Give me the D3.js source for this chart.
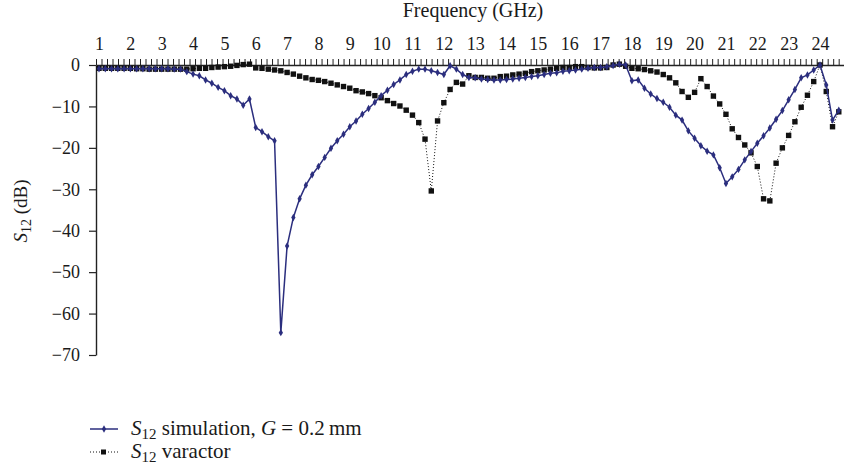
<!DOCTYPE html>
<html>
<head>
<meta charset="utf-8">
<script src="https://cdn.jsdelivr.net/npm/d3@7"></script>
<style>
  body { margin: 0; background: #fff; }
  svg { display: block; }
</style>
</head>
<body>
<div class="graph-container"></div>
<script>
// frequency points (GHz), both series are sampled the same way
var freqGHz = [
  1.0, 1.2, 1.4, 1.6, 1.8, 2.0, 2.2, 2.4, 2.6, 2.8,
  3.0, 3.2, 3.4, 3.6, 3.8, 4.0, 4.2, 4.4, 4.6, 4.8,
  5.0, 5.2, 5.4, 5.6, 5.8, 6.0, 6.2, 6.4, 6.6, 6.8,
  7.0, 7.2, 7.4, 7.6, 7.8, 8.0, 8.2, 8.4, 8.6, 8.8,
  9.0, 9.2, 9.4, 9.6, 9.8, 10.0, 10.2, 10.4, 10.6, 10.8,
  11.0, 11.2, 11.4, 11.6, 11.8, 12.0, 12.2, 12.4, 12.6, 12.8,
  13.0, 13.2, 13.4, 13.6, 13.8, 14.0, 14.2, 14.4, 14.6, 14.8,
  15.0, 15.2, 15.4, 15.6, 15.8, 16.0, 16.2, 16.4, 16.6, 16.8,
  17.0, 17.2, 17.4, 17.6, 17.8, 18.0, 18.2, 18.4, 18.6, 18.8,
  19.0, 19.2, 19.4, 19.6, 19.8, 20.0, 20.2, 20.4, 20.6, 20.8,
  21.0, 21.2, 21.4, 21.6, 21.8, 22.0, 22.2, 22.4, 22.6, 22.8,
  23.0, 23.2, 23.4, 23.6, 23.8, 24.0, 24.2, 24.4, 24.6
];

// S12 simulation, G = 0.2 mm (dB)
var s12Simulation = [
  -0.9, -0.9, -0.9, -0.9, -0.9, -0.9, -0.9, -0.9, -0.9, -0.9,
  -0.9, -0.9, -1.0, -1.0, -1.6, -2.2, -2.6, -3.6, -4.4, -5.4,
  -6.2, -7.4, -8.2, -9.7, -8.2, -15.1, -16.1, -17.3, -18.3, -64.6,
  -43.7, -36.8, -32.3, -29.0, -26.5, -24.5, -22.3, -20.1, -18.3, -16.7,
  -14.9, -13.5, -11.9, -10.5, -9.0, -7.4, -6.1, -4.7, -3.6, -2.3,
  -1.5, -1.0, -1.0, -1.4, -1.8, -2.3, -0.2, -1.0, -2.3, -3.0,
  -3.1, -3.4, -3.5, -3.6, -3.6, -3.5, -3.4, -3.2, -3.0, -2.8,
  -2.6, -2.3, -2.0, -1.9, -1.5, -1.4, -1.2, -1.0, -0.8, -0.6,
  -0.6, -0.4, -0.1, 0.2, 0.0, -3.8, -3.6, -5.6, -7.0, -8.1,
  -9.0, -10.2, -12.1, -13.3, -15.9, -17.7, -19.5, -20.8, -21.7, -24.8,
  -28.6, -27.0, -25.2, -22.9, -20.9, -18.9, -17.1, -15.2, -13.1, -11.0,
  -8.4, -5.9, -3.1, -2.4, -1.2, 0.0, -4.8, -13.3, -10.9
];

// S12 varactor (dB)
var s12Varactor = [
  -0.8, -0.8, -0.8, -0.8, -0.8, -0.8, -0.9, -0.9, -1.0, -1.0,
  -1.0, -1.0, -1.0, -1.0, -1.0, -0.9, -0.8, -0.8, -0.6, -0.5,
  -0.4, -0.3, -0.1, 0.1, 0.2, -0.7, -0.8, -1.0, -1.2, -1.4,
  -1.8, -2.2, -2.7, -3.1, -3.5, -3.7, -4.0, -4.4, -4.8, -5.2,
  -5.6, -6.2, -6.5, -6.9, -7.4, -7.9, -8.6, -9.3, -9.9, -10.9,
  -12.1, -13.9, -17.9, -30.4, -13.5, -9.1, -5.9, -4.2, -4.6, -2.6,
  -3.0, -3.0, -3.2, -3.2, -2.8, -2.7, -2.4, -2.2, -2.0, -1.6,
  -1.4, -1.2, -1.0, -0.8, -0.6, -0.6, -0.4, -0.4, -0.6, -0.7,
  -0.7, -0.6, 0.0, 0.2, -0.3, -0.8, -0.9, -1.1, -1.4, -1.7,
  -2.3, -3.1, -4.3, -6.4, -7.8, -6.6, -3.3, -5.2, -7.5, -9.4,
  -11.9, -15.4, -17.5, -19.3, -21.2, -24.5, -32.3, -32.8, -23.7, -20.0,
  -17.0, -13.7, -10.2, -7.3, -4.0, 0.0, -6.4, -14.9, -11.3
];

var freqTickLabels = [1, 2, 3, 4, 5, 6, 7, 8, 9, 10, 11, 12, 13, 14, 15, 16, 17, 18, 19, 20, 21, 22, 23, 24];
var dbTicks = [0, -10, -20, -30, -40, -50, -60, -70];

var serif = "'Liberation Serif', 'DejaVu Serif', 'Times New Roman', Tinos, 'Noto Serif', serif";

var width = 844, height = 469;
var margin = { top: 65, left: 96, right: 0, bottom: 114 };

var svg = d3.select(".graph-container").append("svg")
    .attr("width", width)
    .attr("height", height)
    .attr("font-family", serif)
    .style("font-family", serif);

var x = d3.scaleLinear()
    .domain([0.904, 24.766])
    .range([margin.left, width - margin.right]);

var y = d3.scaleLinear()
    .domain([-70, 0])
    .range([height - margin.bottom, margin.top]);

var blue = "#2b2e7e";

// top axis: small ticks + numbers
var minorTicks = d3.range(x.domain()[0], x.domain()[1], 0.1755);

svg.append("g")
    .attr("transform", "translate(0," + margin.top + ")")
    .call(d3.axisTop(x).tickValues(minorTicks).tickSize(6).tickSizeOuter(0).tickFormat(""))
    .call(g => g.selectAll("line").attr("stroke", "#222"))
    .call(g => g.select(".domain").attr("stroke", "#222").attr("stroke-width", 1.4));

var xLabels = svg.append("g")
    .attr("transform", "translate(0," + margin.top + ")")
    .call(d3.axisTop(x).tickValues(freqTickLabels).tickSize(0).tickPadding(15).tickFormat(d => d));
xLabels.attr("font-family", null);
xLabels.select(".domain").remove();
xLabels.selectAll("text").style("font-size", "18px").style("font-family", serif).attr("fill", "#1a1a1a");

svg.append("text")
    .attr("x", 473)
    .attr("y", 17)
    .attr("text-anchor", "middle")
    .style("font-size", "20px")
    .attr("fill", "#1a1a1a")
    .text("Frequency (GHz)");

// left axis
var yAxisGroup = svg.append("g")
    .attr("transform", "translate(" + margin.left + ",0)")
    .call(d3.axisLeft(y).tickValues(dbTicks).tickSize(7).tickSizeOuter(0).tickPadding(9));
yAxisGroup.attr("font-family", null);
yAxisGroup.selectAll("line").attr("stroke", "#222").attr("stroke-width", 1.2);
yAxisGroup.select(".domain").attr("stroke", "#222").attr("stroke-width", 1.4);
yAxisGroup.selectAll("text").style("font-size", "18px").style("font-family", serif).attr("fill", "#1a1a1a");

var yTitle = svg.append("text")
    .attr("transform", "translate(27,211) rotate(-90)")
    .attr("text-anchor", "middle")
    .attr("fill", "#1a1a1a")
    .style("font-size", "19px");
yTitle.append("tspan").style("font-style", "italic").text("S");
yTitle.append("tspan").attr("dy", 4).style("font-size", "14px").text("12");
yTitle.append("tspan").attr("dy", -4).text(" (dB)");

// varactor: dotted line with square markers
var varData = freqGHz.map((f, i) => ({ f: f, v: s12Varactor[i] }));
var simData = freqGHz.map((f, i) => ({ f: f, v: s12Simulation[i] }));

var line = d3.line().x(d => x(d.f)).y(d => y(d.v));

svg.append("path")
    .datum(varData)
    .attr("d", line)
    .attr("fill", "none")
    .attr("stroke", "#111")
    .attr("stroke-width", 1)
    .attr("stroke-dasharray", "1,2");

svg.append("g")
    .selectAll("rect")
    .data(varData)
    .enter()
    .append("rect")
    .attr("x", d => x(d.f) - 2.7)
    .attr("y", d => y(d.v) - 2.7)
    .attr("width", 5.4)
    .attr("height", 5.4)
    .attr("fill", "#111");

// simulation: solid blue with small diamonds
svg.append("path")
    .datum(simData)
    .attr("d", line)
    .attr("fill", "none")
    .attr("stroke", blue)
    .attr("stroke-width", 1.5);

var diamond = d3.symbol().type(d3.symbolDiamond).size(16);
svg.append("g")
    .selectAll("path")
    .data(simData)
    .enter()
    .append("path")
    .attr("d", diamond)
    .attr("transform", d => "translate(" + x(d.f) + "," + y(d.v) + ")")
    .attr("fill", blue);

// legend
var lg = svg.append("g");
lg.append("line").attr("x1", 90).attr("x2", 118).attr("y1", 429).attr("y2", 429)
    .attr("stroke", blue).attr("stroke-width", 1.5);
lg.append("path").attr("d", diamond).attr("transform", "translate(104,429)").attr("fill", blue);

var t1 = lg.append("text").attr("x", 131).attr("y", 435).attr("fill", "#1a1a1a").style("font-size", "21px");
t1.append("tspan").style("font-style", "italic").text("S");
t1.append("tspan").attr("dy", 4).style("font-size", "15px").text("12");
t1.append("tspan").attr("dy", -4).text(" simulation, ");
t1.append("tspan").style("font-style", "italic").text("G");
t1.append("tspan").text(" = 0.2\u2009mm");

lg.append("line").attr("x1", 90).attr("x2", 118).attr("y1", 452).attr("y2", 452)
    .attr("stroke", "#111").attr("stroke-width", 1).attr("stroke-dasharray", "1,2");
lg.append("rect").attr("x", 101).attr("y", 449.5).attr("width", 5).attr("height", 5).attr("fill", "#111");

var t2 = lg.append("text").attr("x", 131).attr("y", 458).attr("fill", "#1a1a1a").style("font-size", "21px");
t2.append("tspan").style("font-style", "italic").text("S");
t2.append("tspan").attr("dy", 4).style("font-size", "15px").text("12");
t2.append("tspan").attr("dy", -4).text(" varactor");
</script>
</body>
</html>
